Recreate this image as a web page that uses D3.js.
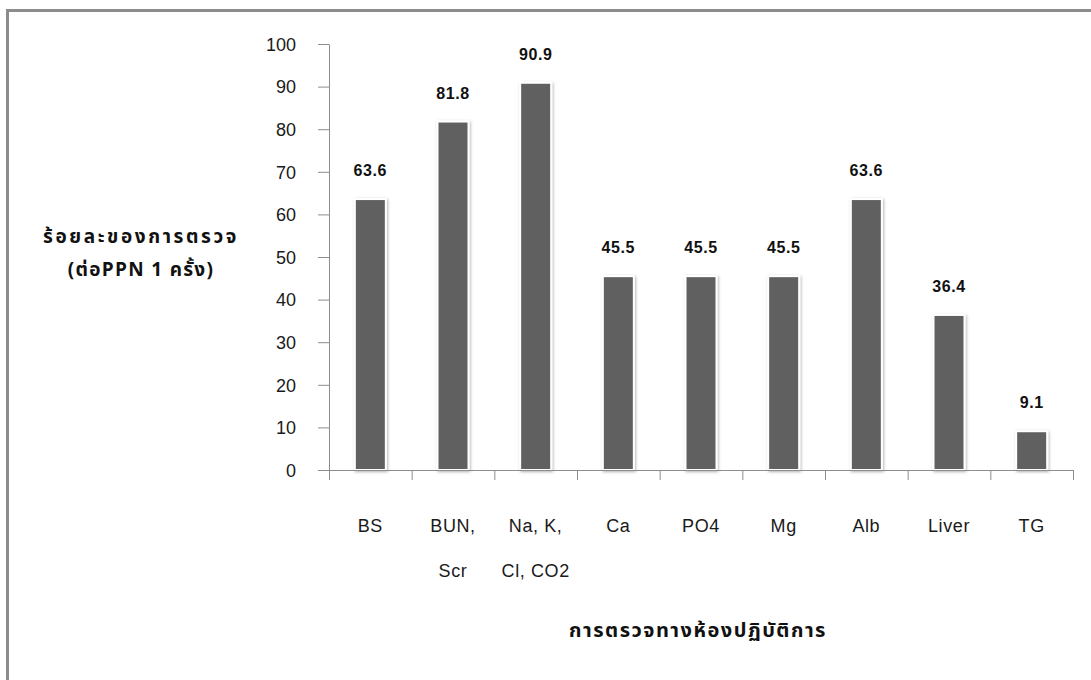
<!DOCTYPE html>
<html>
<head>
<meta charset="utf-8">
<script src="https://cdn.jsdelivr.net/npm/d3@7"></script>
<style>
  html, body { margin: 0; padding: 0; background: #fff; }
  svg { display: block; }
</style>
</head>
<body>
<svg id="chart" width="1091" height="680"></svg>
<script>
const categories = ["BS", "BUN,|Scr", "Na, K,|Cl, CO2", "Ca", "PO4", "Mg", "Alb", "Liver", "TG"];
const values = [63.6, 81.8, 90.9, 45.5, 45.5, 45.5, 63.6, 36.4, 9.1];
const yTicks = [0, 10, 20, 30, 40, 50, 60, 70, 80, 90, 100];
const yTitle = ["ร้อยละของการตรวจ", "(ต่อPPN 1 ครั้ง)"];
const xTitle = "การตรวจทางห้องปฏิบัติการ";

const svg = d3.select("#chart");
const thaiFont = "'Noto Sans Thai', 'Noto Serif Thai', Garuda, Loma, Norasi, 'DejaVu Sans', sans-serif";
const latinFont = "'Liberation Sans', Arial, sans-serif";

// frame
svg.append("rect")
  .attr("x", 7.5).attr("y", 10.5)
  .attr("width", 1200).attr("height", 800)
  .attr("fill", "none").attr("stroke", "#8c8c8c").attr("stroke-width", 3);

const defs = svg.append("defs");
const f = defs.append("filter").attr("id", "shadow").attr("x", "-30%").attr("y", "-10%").attr("width", "160%").attr("height", "120%");
f.append("feDropShadow").attr("dx", 1).attr("dy", 1).attr("stdDeviation", 1.6)
  .attr("flood-color", "#000").attr("flood-opacity", 0.3);

const x0 = 329, x1 = 1073, yBase = 470, yTop = 44;
const x = d3.scaleBand().domain(categories).range([x0, x1]).paddingInner(0).paddingOuter(0);
const y = d3.scaleLinear().domain([0, 100]).range([yBase, yTop]);

// y axis
const yAxis = svg.append("g").attr("transform", `translate(${x0},0)`)
  .call(d3.axisLeft(y).tickValues(yTicks).tickSize(11).tickPadding(22).tickSizeOuter(0));
yAxis.select(".domain").attr("stroke", "#8c8c8c");
yAxis.selectAll(".tick line").attr("stroke", "#8c8c8c");
yAxis.selectAll(".tick text").attr("font-family", latinFont).attr("font-size", 18).attr("fill", "#1a1a1a").attr("dy", "0.35em");

// bars
const barW = 31;
svg.append("g").selectAll("rect").data(values).join("rect")
  .attr("x", (d, i) => x(categories[i]) + x.bandwidth() / 2 - barW / 2)
  .attr("y", d => y(d))
  .attr("width", barW)
  .attr("height", d => yBase - y(d))
  .attr("fill", "#606060")
  .attr("stroke", "#fff").attr("stroke-width", 2)
  .attr("filter", "url(#shadow)");

// x axis
const xAxis = svg.append("g").attr("transform", `translate(0,${yBase})`)
  .call(d3.axisBottom(x).tickSize(0).tickSizeOuter(0).tickFormat(""));
xAxis.select(".domain").attr("stroke", "#8c8c8c");
const bounds = categories.map(c => x(c)).concat([x1]);
svg.append("g").selectAll("line").data(bounds).join("line")
  .attr("x1", d => d + 0.5).attr("x2", d => d + 0.5)
  .attr("y1", yBase).attr("y2", yBase + 10)
  .attr("stroke", "#8c8c8c");

// category labels
const catG = svg.append("g");
categories.forEach(c => {
  const lines = c.split("|");
  const t = catG.append("text")
    .attr("x", x(c) + x.bandwidth() / 2)
    .attr("y", 532)
    .attr("text-anchor", "middle")
    .attr("font-family", latinFont).attr("font-size", 18).attr("fill", "#1a1a1a")
    .attr("letter-spacing", 0.6);
  lines.forEach((l, k) => {
    t.append("tspan").attr("x", x(c) + x.bandwidth() / 2).attr("y", 532 + k * 45).text(l);
  });
});

// value labels
svg.append("g").selectAll("text").data(values).join("text")
  .attr("x", (d, i) => x(categories[i]) + x.bandwidth() / 2)
  .attr("y", d => y(d) - 23)
  .attr("text-anchor", "middle")
  .attr("font-family", latinFont).attr("font-size", 16).attr("font-weight", "bold")
  .attr("letter-spacing", 0.6).attr("fill", "#111")
  .text(d => d.toFixed(1));

// y title
svg.append("g").selectAll("text").data(yTitle).join("text")
  .attr("x", 141)
  .attr("y", (d, i) => 243 + i * 33)
  .attr("text-anchor", "middle")
  .attr("font-family", thaiFont).attr("font-size", 19).attr("font-weight", "bold")
  .attr("letter-spacing", (d, i) => i === 0 ? 2.6 : 1.3)
  .attr("fill", "#111")
  .text(d => d);

// x title
svg.append("text")
  .attr("x", 698).attr("y", 637)
  .attr("text-anchor", "middle")
  .attr("font-family", thaiFont).attr("font-size", 20).attr("font-weight", "bold")
  .attr("letter-spacing", 1.5)
  .attr("fill", "#111")
  .text(xTitle);
</script>
</body>
</html>
